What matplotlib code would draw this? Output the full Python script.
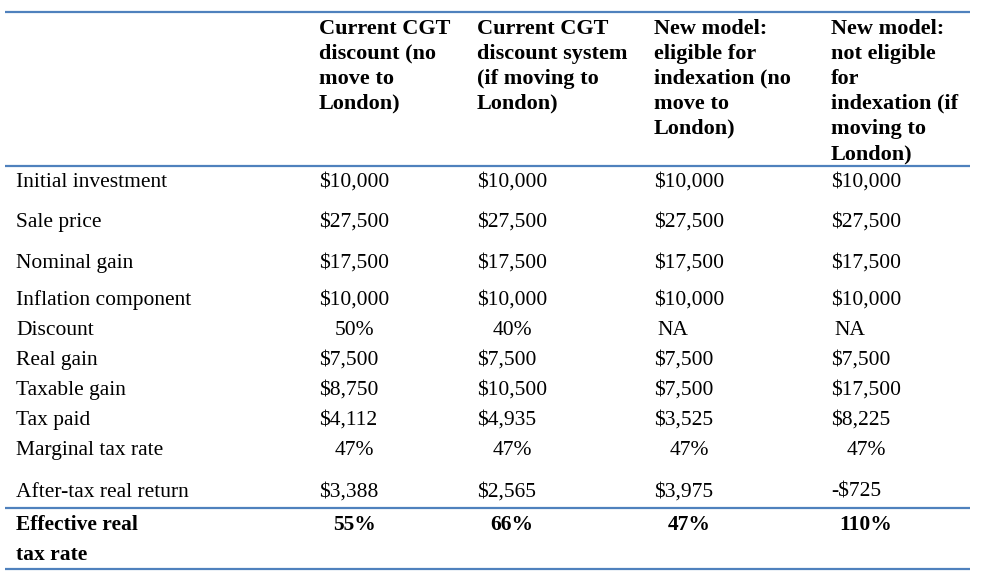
import matplotlib.pyplot as plt

plt.rcParams['font.family'] = ['Liberation Serif', 'DejaVu Serif']

# table contents
headers = [
    ["Current CGT", "discount (no", "move to", "London)"],
    ["Current CGT", "discount system", "(if moving to", "London)"],
    ["New model:", "eligible for", "indexation (no", "move to", "London)"],
    ["New model:", "not eligible", "for", "indexation (if", "moving to",
     "London)"],
]
row_labels = ["Initial investment", "Sale price", "Nominal gain",
              "Inflation component", "Discount", "Real gain", "Taxable gain",
              "Tax paid", "Marginal tax rate", "After-tax real return"]
col_current = ["$10,000", "$27,500", "$17,500", "$10,000", "50%", "$7,500",
               "$8,750", "$4,112", "47%", "$3,388"]
col_current_london = ["$10,000", "$27,500", "$17,500", "$10,000", "40%",
                      "$7,500", "$10,500", "$4,935", "47%", "$2,565"]
col_new_eligible = ["$10,000", "$27,500", "$17,500", "$10,000", "NA",
                    "$7,500", "$7,500", "$3,525", "47%", "$3,975"]
col_new_not_eligible = ["$10,000", "$27,500", "$17,500", "$10,000", "NA",
                        "$7,500", "$17,500", "$8,225", "47%", "-$725"]
total_label = ["Effective real", "tax rate"]
total_values = ["55%", "66%", "47%", "110%"]

columns = [col_current, col_current_london, col_new_eligible,
           col_new_not_eligible]

# layout (pixels)
W, H = 983, 578
col_x = [319, 477, 654, 831]
row_y = [180, 220, 261, 298, 328, 358, 388, 418, 448, 490]
total_y = 522
fs = 15.5
hfs = 16
line_color = "#4F81BD"

fig = plt.figure(figsize=(W / 100, H / 100), dpi=100)
ax = fig.add_axes([0, 0, 1, 1])
ax.set_xlim(0, W)
ax.set_ylim(H, 0)
ax.axis("off")

for y in [12, 166, 508, 569]:
    ax.plot([5, 970], [y, y], color=line_color, lw=1.6,
            solid_capstyle="butt")

for x, lines in zip(col_x, headers):
    for i, s in enumerate(lines):
        ax.text(x, 26 + 25.1 * i, s, ha="left", va="center_baseline",
                fontsize=hfs, fontweight="bold")

for y, lab in zip(row_y, row_labels):
    ax.text(16, y, lab, ha="left", va="center_baseline", fontsize=fs)


def put_value(x, y, s, weight="normal"):
    if s.endswith("%"):
        ax.text(x + 35, y, s, ha="center", va="center_baseline", fontsize=fs,
                fontweight=weight)
    elif s == "NA":
        ax.text(x + 3, y, s, ha="left", va="center_baseline", fontsize=fs,
                fontweight=weight)
    else:
        ax.text(x, y, s, ha="left", va="center_baseline", fontsize=fs,
                fontweight=weight)


for x, vals in zip(col_x, columns):
    for y, v in zip(row_y, vals):
        put_value(x, y, v)

for i, s in enumerate(total_label):
    ax.text(16, total_y + 30 * i, s, ha="left", va="center_baseline",
            fontsize=fs, fontweight="bold")
for x, v in zip(col_x, total_values):
    put_value(x, total_y, v, weight="bold")

fig.savefig("out.png", dpi=100, facecolor="white")
